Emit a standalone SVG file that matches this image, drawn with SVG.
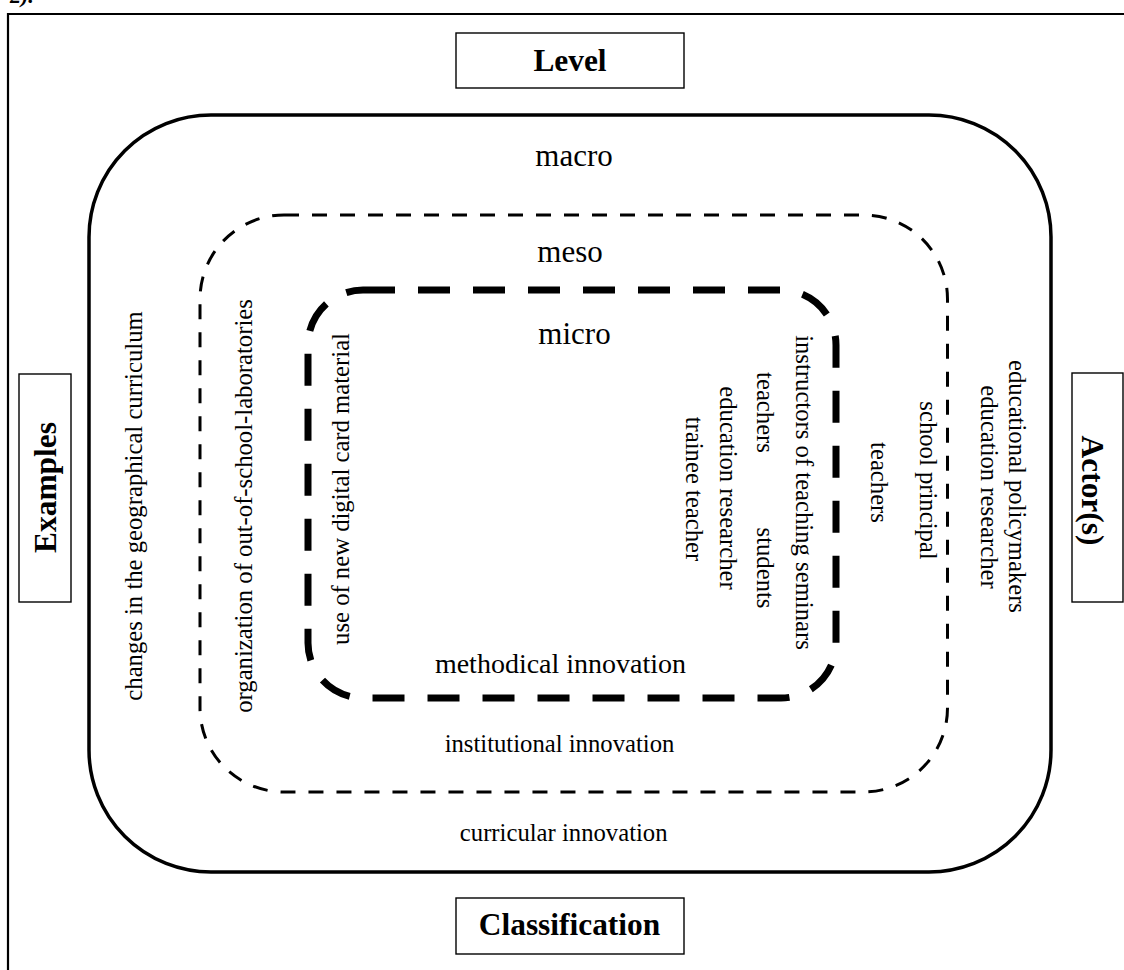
<svg xmlns="http://www.w3.org/2000/svg" width="1124" height="970" viewBox="0 0 1124 970">
<style>
  text { font-family: "Liberation Serif", "Times New Roman", serif; fill: #000; }
  .t { font-size: 24.7px; text-anchor: middle; }
  .lvl { font-size: 31px; text-anchor: middle; }
  .head { font-size: 31.4px; font-weight: bold; text-anchor: middle; }
  .box { fill: #fff; stroke: #000; stroke-width: 1.4; }
  .ring { fill: none; stroke: #000; }
</style>
<rect width="1124" height="970" fill="#fff"/>
<text x="10" y="3" style="font-size:22px;font-style:italic;font-weight:bold">2).</text>
<path d="M8,970 V14 H1124" fill="none" stroke="#000" stroke-width="2.2"/>

<g id="macro">
  <rect class="ring" x="89" y="115" width="962" height="757" rx="122" ry="122" stroke-width="3.5"/>
  <text class="lvl" x="574" y="165.7">macro</text>
  <text class="t" x="563.7" y="841">curricular innovation</text>
  <text class="t" transform="translate(141.5,506) rotate(-90)">changes in the geographical curriculum</text>
  <text class="t" transform="translate(1009,486.5) rotate(90)">educational policymakers</text>
  <text class="t" transform="translate(981,487) rotate(90)">education researcher</text>
</g>

<g id="meso">
  <rect class="ring" x="200" y="215" width="747.5" height="577" rx="84" ry="84" stroke-width="3" stroke-dasharray="15 13"/>
  <text class="lvl" x="570" y="261.7">meso</text>
  <text class="t" x="559.5" y="751.7">institutional innovation</text>
  <text class="t" transform="translate(252,506) rotate(-90)">organization of out-of-school-laboratories</text>
  <text class="t" transform="translate(920,480.5) rotate(90)">school principal</text>
  <text class="t" transform="translate(871,482.5) rotate(90)">teachers</text>
</g>

<g id="micro">
  <rect class="ring" x="308" y="290" width="528" height="408" rx="55" ry="55" stroke-width="7" stroke-dasharray="32 23"/>
  <text class="lvl" x="574.5" y="344">micro</text>
  <text class="t" x="560.5" y="672.7" style="font-size:28px">methodical innovation</text>
  <text class="t" transform="translate(349,489) rotate(-90)">use of new digital card material</text>
  <text class="t" transform="translate(796,492.5) rotate(90)">instructors of teaching seminars</text>
  <text class="t" transform="translate(757,412.5) rotate(90)">teachers</text>
  <text class="t" transform="translate(757,568) rotate(90)">students</text>
  <text class="t" transform="translate(720,488) rotate(90)">education researcher</text>
  <text class="t" transform="translate(686,489) rotate(90)">trainee teacher</text>
</g>

<g id="level">
  <rect class="box" x="456" y="33" width="228" height="55"/>
  <text class="head" x="570" y="70.7">Level</text>
</g>

<g id="classification">
  <rect class="box" x="456" y="898" width="228" height="56"/>
  <text class="head" x="569.5" y="935">Classification</text>
</g>

<g id="examples">
  <rect class="box" x="19" y="374" width="52" height="228"/>
  <text class="head" transform="translate(56,487.5) rotate(-90)">Examples</text>
</g>

<g id="actors">
  <rect class="box" x="1072" y="373" width="51" height="229"/>
  <text class="head" transform="translate(1082,490.5) rotate(90)">Actor(s)</text>
</g>

<g id="connectors"></g>
</svg>
